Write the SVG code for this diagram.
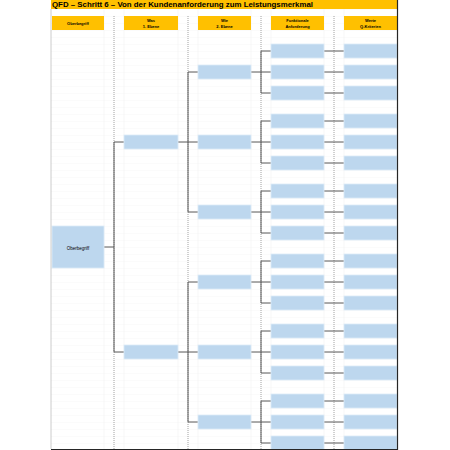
<svg xmlns="http://www.w3.org/2000/svg" width="450" height="450" viewBox="0 0 450 450">
<style>
.hdr{fill:#FFC000}
.ht{font-family:"Liberation Sans",Arial,sans-serif;font-size:4px;font-weight:bold;fill:#000;text-anchor:middle}
.box{fill:#BDD7EE;stroke:#DDEBF7;stroke-width:0.8}
.bt{font-family:"Liberation Sans",Arial,sans-serif;font-size:4.5px;fill:#000;text-anchor:middle}
.sep{stroke:#8C8C8C;stroke-width:0.8;stroke-dasharray:1 1;fill:none}
.grid{stroke:#EFEFEF;stroke-width:0.5;fill:none}
.con{stroke:#595959;stroke-width:1;fill:none}
</style>
<defs>
<pattern id="rows" x="0" y="2" width="10" height="7" patternUnits="userSpaceOnUse">
<line x1="0" y1="0" x2="10" y2="0" stroke="#F0F0F0" stroke-width="0.6"/>
</pattern>
</defs>
<rect x="0" y="0" width="450" height="450" fill="#fff"/>
<g id="grid">
<rect x="51" y="9" width="346" height="440" fill="url(#rows)"/>
<path class="grid" d="M104 9V449M124 9V449M178 9V449M198 9V449M251 9V449M271 9V449M324 9V449M344 9V449"/>
</g>
<g id="title">
<rect x="51" y="0" width="346" height="9" class="hdr"/>
<text x="52" y="7.3" font-family="'Liberation Sans',Arial,sans-serif" font-size="7.5" font-weight="bold" fill="#000" textLength="261" lengthAdjust="spacingAndGlyphs">QFD – Schritt 6 – Von der Kundenanforderung zum Leistungsmerkmal</text>
</g>
<g id="separators">
<path class="sep" d="M114 16V449M188 16V449M261 16V449M334 16V449"/>
</g>
<g id="headers">
<g id="h-oberbegriff"><rect class="hdr" x="52" y="16" width="52" height="14"/><text class="ht" x="78" y="24.5">Oberbegriff</text></g>
<g id="h-was"><rect class="hdr" x="124" y="16" width="54" height="14"/><text class="ht" x="151" y="21.5">Was</text><text class="ht" x="151" y="28">1. Ebene</text></g>
<g id="h-wie"><rect class="hdr" x="198" y="16" width="53" height="14"/><text class="ht" x="224.5" y="21.5">Wie</text><text class="ht" x="224.5" y="28">2. Ebene</text></g>
<g id="h-funktionale"><rect class="hdr" x="271" y="16" width="53" height="14"/><text class="ht" x="297.5" y="21.5">Funktionale</text><text class="ht" x="297.5" y="28">Anforderung</text></g>
<g id="h-werte"><rect class="hdr" x="344" y="16" width="53" height="14"/><text class="ht" x="370.5" y="21.5">Werte</text><text class="ht" x="370.5" y="28">Q-Kriterien</text></g>
</g>
<g id="connectors">
<path class="con" d="M104 247H114M114 142V352M114 142H124M114 352H124"/>
<path class="con" d="M178 142H188M188 72V212M188 72H198M188 142H198M188 212H198"/>
<path class="con" d="M178 352H188M188 282V422M188 282H198M188 352H198M188 422H198"/>
<path class="con" d="M251 72H261M261 51V93M261 51H271M261 72H271M261 93H271"/>
<path class="con" d="M251 142H261M261 121V163M261 121H271M261 142H271M261 163H271"/>
<path class="con" d="M251 212H261M261 191V233M261 191H271M261 212H271M261 233H271"/>
<path class="con" d="M251 282H261M261 261V303M261 261H271M261 282H271M261 303H271"/>
<path class="con" d="M251 352H261M261 331V373M261 331H271M261 352H271M261 373H271"/>
<path class="con" d="M251 422H261M261 401V443M261 401H271M261 422H271M261 443H271"/>
<path class="con" d="M324 51H344M324 72H344M324 93H344M324 121H344M324 142H344M324 163H344M324 191H344M324 212H344M324 233H344M324 261H344M324 282H344M324 303H344M324 331H344M324 352H344M324 373H344M324 401H344M324 422H344M324 443H344"/>
</g>
<g id="n-oberbegriff"><rect class="box" x="52" y="226" width="52" height="42"/><text class="bt" x="78" y="249.5">Oberbegriff</text></g>
<g id="level1">
<rect id="n-was-1" class="box" x="124" y="135" width="54" height="14"/>
<rect id="n-was-2" class="box" x="124" y="345" width="54" height="14"/>
</g>
<g id="level2">
<rect id="n-wie-1" class="box" x="198" y="65" width="53" height="14"/>
<rect id="n-wie-2" class="box" x="198" y="135" width="53" height="14"/>
<rect id="n-wie-3" class="box" x="198" y="205" width="53" height="14"/>
<rect id="n-wie-4" class="box" x="198" y="275" width="53" height="14"/>
<rect id="n-wie-5" class="box" x="198" y="345" width="53" height="14"/>
<rect id="n-wie-6" class="box" x="198" y="415" width="53" height="14"/>
</g>
<g id="level3">
<rect class="box" x="271" y="44" width="53" height="14"/><rect class="box" x="271" y="65" width="53" height="14"/><rect class="box" x="271" y="86" width="53" height="14"/>
<rect class="box" x="271" y="114" width="53" height="14"/><rect class="box" x="271" y="135" width="53" height="14"/><rect class="box" x="271" y="156" width="53" height="14"/>
<rect class="box" x="271" y="184" width="53" height="14"/><rect class="box" x="271" y="205" width="53" height="14"/><rect class="box" x="271" y="226" width="53" height="14"/>
<rect class="box" x="271" y="254" width="53" height="14"/><rect class="box" x="271" y="275" width="53" height="14"/><rect class="box" x="271" y="296" width="53" height="14"/>
<rect class="box" x="271" y="324" width="53" height="14"/><rect class="box" x="271" y="345" width="53" height="14"/><rect class="box" x="271" y="366" width="53" height="14"/>
<rect class="box" x="271" y="394" width="53" height="14"/><rect class="box" x="271" y="415" width="53" height="14"/><rect class="box" x="271" y="436" width="53" height="14"/>
</g>
<g id="level4">
<rect class="box" x="344" y="44" width="53" height="14"/><rect class="box" x="344" y="65" width="53" height="14"/><rect class="box" x="344" y="86" width="53" height="14"/>
<rect class="box" x="344" y="114" width="53" height="14"/><rect class="box" x="344" y="135" width="53" height="14"/><rect class="box" x="344" y="156" width="53" height="14"/>
<rect class="box" x="344" y="184" width="53" height="14"/><rect class="box" x="344" y="205" width="53" height="14"/><rect class="box" x="344" y="226" width="53" height="14"/>
<rect class="box" x="344" y="254" width="53" height="14"/><rect class="box" x="344" y="275" width="53" height="14"/><rect class="box" x="344" y="296" width="53" height="14"/>
<rect class="box" x="344" y="324" width="53" height="14"/><rect class="box" x="344" y="345" width="53" height="14"/><rect class="box" x="344" y="366" width="53" height="14"/>
<rect class="box" x="344" y="394" width="53" height="14"/><rect class="box" x="344" y="415" width="53" height="14"/><rect class="box" x="344" y="436" width="53" height="14"/>
</g>
<g id="frame">
<path d="M51 9V449" stroke="#BFBFBF" stroke-width="0.8" fill="none"/>
<path d="M397.5 0V449.5H51" stroke="#262626" stroke-width="1.2" fill="none"/>
</g>
</svg>
